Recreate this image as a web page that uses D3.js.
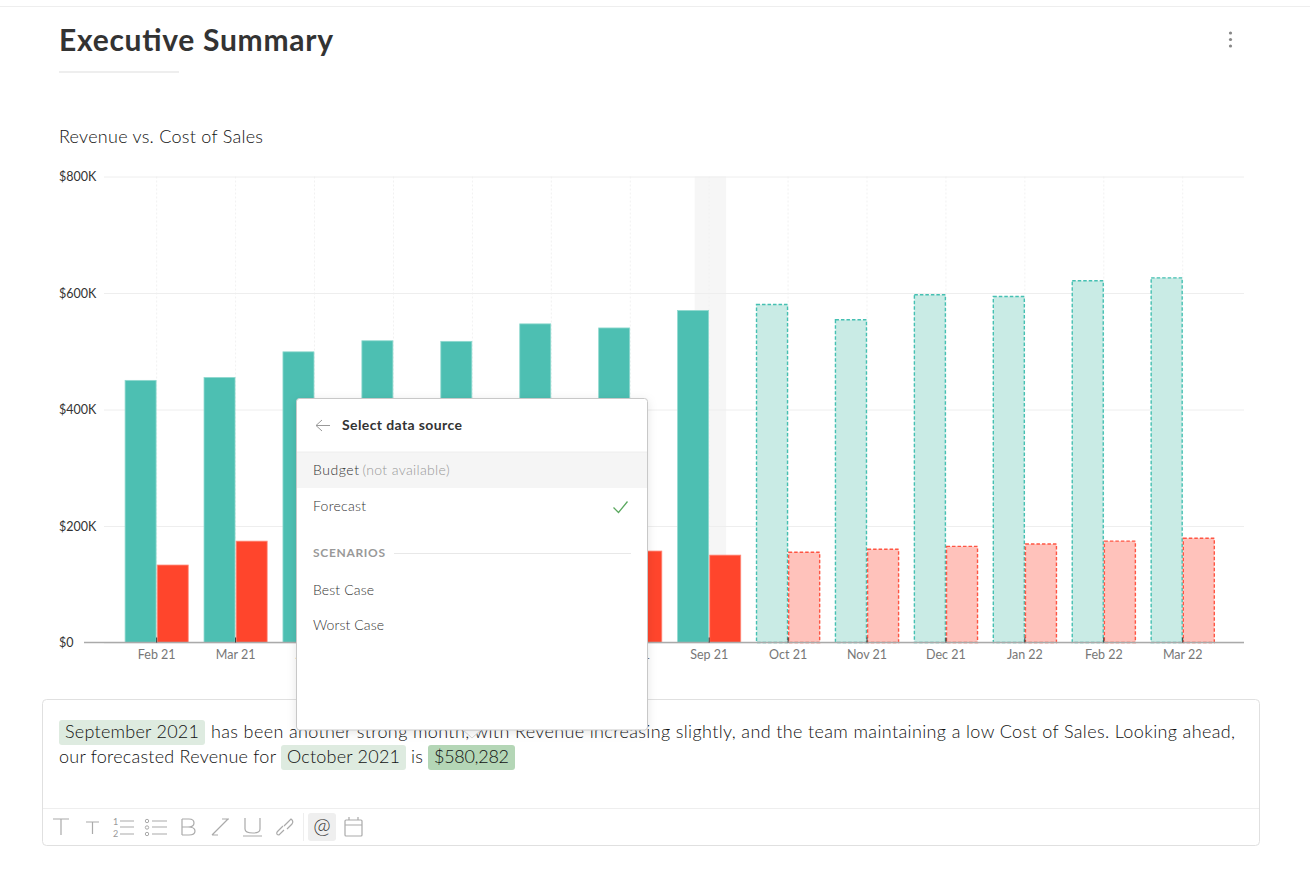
<!DOCTYPE html>
<html>
<head>
<meta charset="utf-8">
<title>Executive Summary</title>
<script src="https://cdn.jsdelivr.net/npm/d3@7"></script>
<style>
  html, body { margin: 0; padding: 0; background: #fff; }
  svg { display: block; }
  text { font-family: Lato, "Open Sans", sans-serif; }
</style>
</head>
<body>
<div id="chart-area"></div>
<script>
const months = ['Feb 21','Mar 21','Apr 21','May 21','Jun 21','Jul 21','Aug 21','Sep 21','Oct 21','Nov 21','Dec 21','Jan 22','Feb 22','Mar 22'];
const revenue = [450, 455, 499, 518, 517, 547, 540, 570, 580.282, 554, 597, 594, 621, 626];
const costOfSales = [133, 174, 146, 150, 152, 155, 157, 150, 155, 160, 165, 169, 174, 179];
const forecastMonths = ['Oct 21','Nov 21','Dec 21','Jan 22','Feb 22','Mar 22'];
const yTicks = [0, 200, 400, 600, 800];
const selectedMonth = 'Sep 21';

const w = 1310;
const h = 876;

const svg = d3.select('#chart-area')
  .append('svg')
  .attr('width', w)
  .attr('height', h);

// page furniture
svg.append('line').attr('x1', 0).attr('x2', w).attr('y1', 6.5).attr('y2', 6.5).attr('stroke', '#eeeeee');

const label = (x, y, str, size, color, weight, width) => {
  const t = svg.append('text')
    .attr('x', x).attr('y', y)
    .attr('font-size', size)
    .attr('fill', color)
    .attr('font-weight', weight || 400)
    .text(str);
  if (width) t.attr('textLength', width).attr('lengthAdjust', 'spacing');
  return t;
};

label(59, 51, 'Executive Summary', 30, '#333333', 700, 274);
svg.append('rect').attr('x', 59).attr('y', 71).attr('width', 120).attr('height', 2).attr('fill', '#eeeeee');
svg.selectAll('circle.kebab')
  .data([33, 39.5, 46])
  .enter().append('circle')
  .attr('class', 'kebab')
  .attr('cx', 1230.5).attr('cy', d => d).attr('r', 1.6).attr('fill', '#888888');

label(59, 143, 'Revenue vs. Cost of Sales', 18, '#111111', 300, 204);

// scales
const x = d3.scaleBand()
  .domain(months)
  .range([117.2, 1222.2])
  .paddingInner(0.2)
  .paddingOuter(0.1);

const xSeries = d3.scaleBand()
  .domain(['revenue', 'cost'])
  .range([0, x.bandwidth()])
  .paddingInner(0.035);

const y = d3.scaleLinear()
  .domain([0, 800])
  .range([642.5, 176.5]);

const center = m => x(m) + x.bandwidth() / 2;

// highlighted month
svg.append('rect')
  .attr('x', center(selectedMonth) - 14.5)
  .attr('y', y(800))
  .attr('width', 31.5)
  .attr('height', y(0) - y(800))
  .attr('fill', '#f6f6f6');

// vertical grid
svg.append('g')
  .selectAll('line')
  .data(months)
  .enter().append('line')
  .attr('x1', center).attr('x2', center)
  .attr('y1', y(800)).attr('y2', y(0))
  .attr('stroke', '#f1f1f1')
  .attr('stroke-dasharray', '2 2');

// y axis
const yAxis = svg.append('g')
  .attr('transform', 'translate(104,0)')
  .call(d3.axisLeft(y)
    .tickValues(yTicks)
    .tickSize(-1140)
    .tickFormat(d => d === 0 ? '$0' : '$' + d + 'K'));
yAxis.select('.domain').remove();
yAxis.selectAll('.tick line').attr('stroke', '#eeeeee');
yAxis.selectAll('.tick text')
  .attr('x', -45)
  .attr('text-anchor', 'start')
  .attr('font-family', 'Lato')
  .attr('font-size', 12.5)
  .attr('fill', '#333333');

// bars
const isForecast = m => forecastMonths.includes(m);
const drawBars = (key, values, solid, pale, edge, softEdge) => {
  svg.append('g')
    .selectAll('rect')
    .data(months)
    .enter().append('rect')
    .attr('x', m => x(m) + xSeries(key))
    .attr('y', (m, i) => y(values[i]))
    .attr('width', xSeries.bandwidth())
    .attr('height', (m, i) => y(0) - y(values[i]))
    .attr('fill', m => isForecast(m) ? pale : solid)
    .attr('stroke', m => isForecast(m) ? edge : softEdge)
    .attr('stroke-width', m => isForecast(m) ? 1.4 : 0.8)
    .attr('stroke-dasharray', m => isForecast(m) ? '3.5 2' : null);
};
drawBars('revenue', revenue, '#4dbfb2', '#c9ebe5', '#45c0b2', '#8fd9cf');
drawBars('cost', costOfSales, '#ff452c', '#ffc2bb', '#ff5543', '#ff8a7a');

// x axis, above the bars so the month ticks stay visible
const xAxis = svg.append('g')
  .attr('transform', 'translate(0,' + y(0) + ')')
  .call(d3.axisBottom(x).tickSize(-5).tickPadding(8).tickSizeOuter(0));
xAxis.select('.domain').attr('d', 'M84,0H1244').attr('stroke', '#aaaaaa').attr('stroke-width', 1.5);
xAxis.selectAll('.tick line').attr('stroke', '#333333');
xAxis.selectAll('.tick text')
  .attr('font-family', 'Lato')
  .attr('font-size', 12.5)
  .attr('fill', '#777777');

// editor box
svg.append('rect')
  .attr('x', 42.5).attr('y', 699.5).attr('width', 1217).attr('height', 146).attr('rx', 4)
  .attr('fill', '#fff').attr('stroke', '#e0e0e0');
svg.append('line').attr('x1', 43).attr('x2', 1259).attr('y1', 808.5).attr('y2', 808.5).attr('stroke', '#eeeeee');

const chip = (cx, cy, cw, fill) => svg.append('rect')
  .attr('x', cx).attr('y', cy).attr('width', cw).attr('height', 25).attr('rx', 3).attr('fill', fill);
chip(59, 720, 146, '#deebe0');
chip(281, 745, 125, '#deebe0');
chip(428, 745, 87, '#b4d6b6');

label(65, 738, 'September 2021', 18, '#111111', 300, 134);
label(211, 738, 'has been another strong month, with Revenue increasing slightly, and the team maintaining a low Cost of Sales. Looking ahead,', 18, '#111111', 300, 1024);
label(59, 763, 'our forecasted Revenue for', 18, '#111111', 300, 217);
label(287, 763, 'October 2021', 18, '#111111', 300, 113);
label(411, 763, 'is', 18, '#111111', 300, 12);
label(434, 763, '$580,282', 18, '#111111', 300, 75);

// toolbar icons
const icons = svg.append('g').attr('fill', 'none').attr('stroke', '#aaaaaa').attr('stroke-width', 1.2);
[
  'M53,819H69M61,819V835',                       // heading
  'M86,822H99M92.5,822V834',                     // subheading
  'M120,821H134M120,827H134M120,834H134',        // numbered list
  'M152,821H167M152,827H167M152,834H167',        // bullet list
  'M182,819V835M182,819H189Q194,819 194,823Q194,827 188,827H182M188,827Q195,827 195,831Q195,835 189,835H182', // bold
  'M212,835L228,819M212,835H218M222,819H229',    // italic
  'M245,818V829Q245,833 253,833Q260,833 260,829V818M243,836H262', // underline
  'M277,832L283,826M284,826L291,819Q294,821 292,824L287,829M277,832Q276,835 279,835L284,830'  // link
].forEach(d => icons.append('path').attr('d', d));
svg.append('text').attr('x', 113).attr('y', 825).attr('font-size', 9).attr('fill', '#999999').text('1');
svg.append('text').attr('x', 113).attr('y', 837).attr('font-size', 9).attr('fill', '#999999').text('2');
svg.selectAll('circle.bullet')
  .data([821, 827.5, 834])
  .enter().append('circle')
  .attr('class', 'bullet')
  .attr('cx', 147).attr('cy', d => d).attr('r', 1.7)
  .attr('fill', 'none').attr('stroke', '#aaaaaa');

svg.append('line').attr('x1', 303.5).attr('x2', 303.5).attr('y1', 813).attr('y2', 841).attr('stroke', '#eeeeee');
svg.append('rect').attr('x', 308).attr('y', 813).attr('width', 28).attr('height', 28).attr('rx', 3).attr('fill', '#efefef');
svg.append('text')
  .attr('x', 322).attr('y', 833).attr('text-anchor', 'middle')
  .attr('font-size', 21).attr('font-weight', 300).attr('fill', '#333333').text('@');
icons.append('rect').attr('x', 345).attr('y', 820).attr('width', 17).attr('height', 16).attr('rx', 1);
icons.append('path').attr('d', 'M345,825H362M349,817V820M358,817V820');

// data source popover
const defs = svg.append('defs');
const shadow = defs.append('filter').attr('id', 'popup-shadow')
  .attr('x', '-10%').attr('y', '-10%').attr('width', '120%').attr('height', '120%');
shadow.append('feDropShadow')
  .attr('dx', 0).attr('dy', 2).attr('stdDeviation', 5)
  .attr('flood-color', '#000').attr('flood-opacity', 0.1);

const popup = svg.append('g');
popup.append('path')
  .attr('d', 'M463,730L472,738L481,730Z')
  .attr('fill', '#fff').attr('stroke', '#d5d5d5');
popup.append('rect')
  .attr('x', 296.5).attr('y', 398.5).attr('width', 351).attr('height', 331.5).attr('rx', 3)
  .attr('fill', '#fff').attr('stroke', '#c8c8c8').attr('filter', 'url(#popup-shadow)');
popup.append('path')
  .attr('d', 'M316,425.5H330M316,425.5L322,420M316,425.5L322,431')
  .attr('fill', 'none').attr('stroke', '#999999');
popup.append('rect').attr('x', 297).attr('y', 452).attr('width', 350).attr('height', 36).attr('fill', '#f5f5f5');
popup.append('line').attr('x1', 297).attr('x2', 647).attr('y1', 452).attr('y2', 452).attr('stroke', '#eeeeee');
popup.append('path')
  .attr('d', 'M613.5,507.5L618.5,512.5L627.5,501.5')
  .attr('fill', 'none').attr('stroke', '#5aa85f').attr('stroke-width', 1.3);
popup.append('line').attr('x1', 394).attr('x2', 631).attr('y1', 553.5).attr('y2', 553.5).attr('stroke', '#e8e8e8');

label(342, 430, 'Select data source', 14, '#333333', 700, 120);
label(313, 475, 'Budget', 14, '#333333', 300, 46);
label(362.5, 475, '(not available)', 14, '#999999', 300, 87);
label(313, 511, 'Forecast', 14, '#333333', 300, 53);
label(313, 557, 'SCENARIOS', 12, '#999999', 700, 72);
label(313, 595, 'Best Case', 14, '#333333', 300, 61);
label(313, 630, 'Worst Case', 14, '#333333', 300, 71);
</script>
</body>
</html>
